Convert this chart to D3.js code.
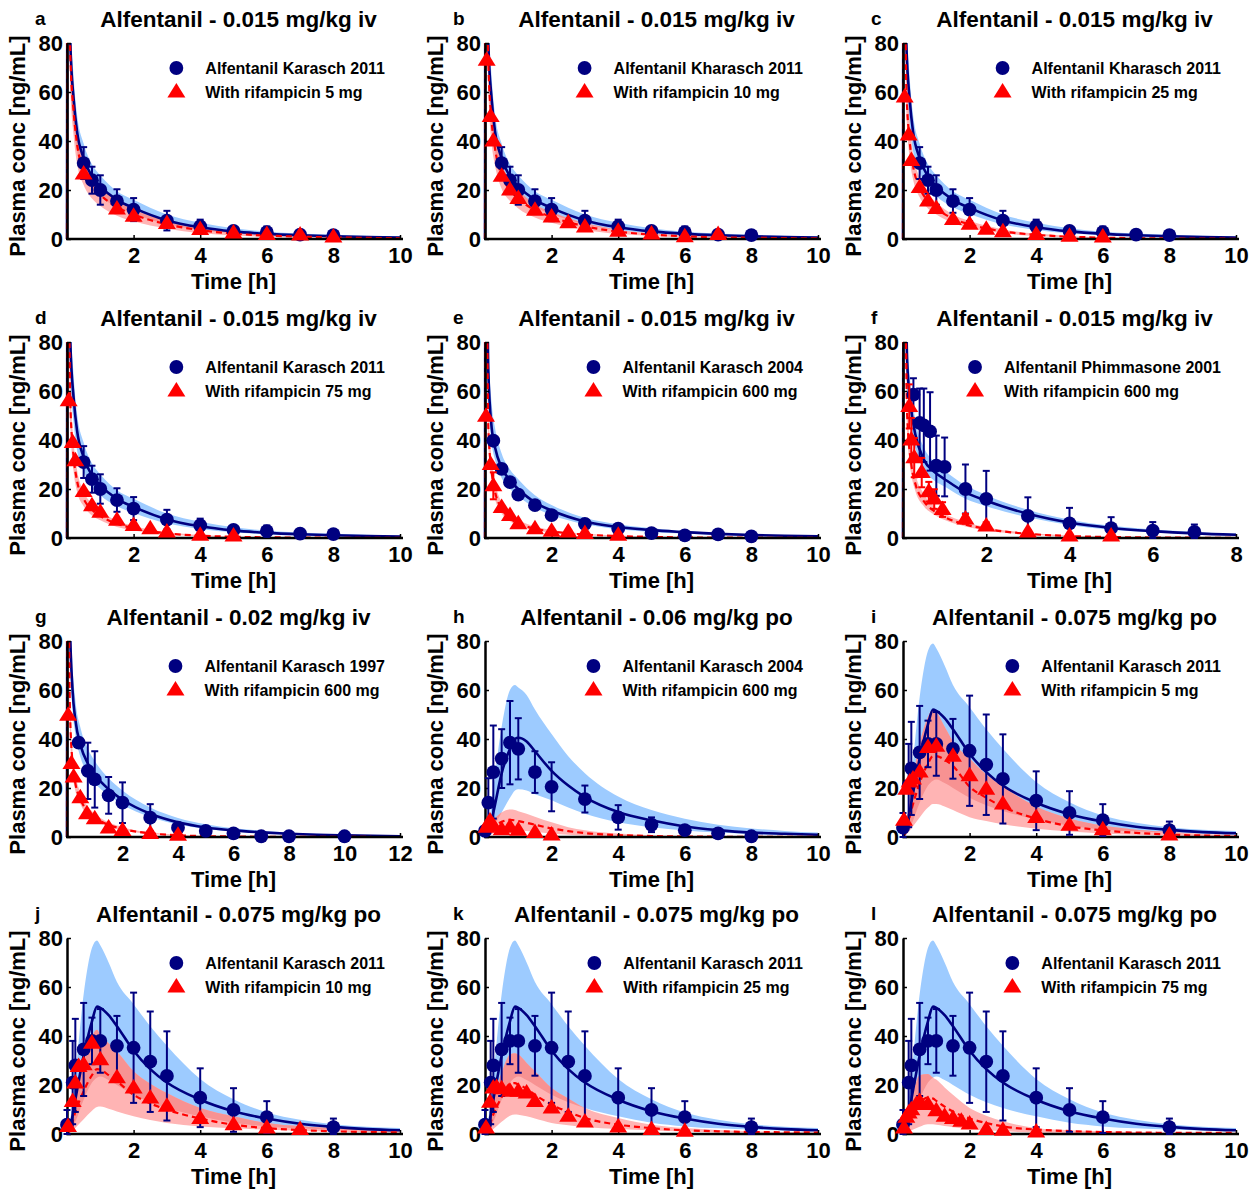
<!DOCTYPE html>
<html><head><meta charset="utf-8">
<script src="https://cdn.jsdelivr.net/npm/d3@7"></script>
<style>
body{margin:0;background:#fff}
text{font-family:"Liberation Sans",Arial,Helvetica,sans-serif;font-weight:bold;fill:#000}
</style></head>
<body><svg id="chart" width="1255" height="1191"></svg>
<script>
// ---------------- DATA ----------------
const panelLetters = ["a","b","c","d","e","f","g","h","i","j","k","l"];
const panelTitles = [
 "Alfentanil - 0.015 mg/kg iv","Alfentanil - 0.015 mg/kg iv","Alfentanil - 0.015 mg/kg iv",
 "Alfentanil - 0.015 mg/kg iv","Alfentanil - 0.015 mg/kg iv","Alfentanil - 0.015 mg/kg iv",
 "Alfentanil - 0.02 mg/kg iv","Alfentanil - 0.06 mg/kg po","Alfentanil - 0.075 mg/kg po",
 "Alfentanil - 0.075 mg/kg po","Alfentanil - 0.075 mg/kg po","Alfentanil - 0.075 mg/kg po"];
const controlLabels = [
 "Alfentanil Karasch 2011","Alfentanil Kharasch 2011","Alfentanil Kharasch 2011",
 "Alfentanil Karasch 2011","Alfentanil Karasch 2004","Alfentanil Phimmasone 2001",
 "Alfentanil Karasch 1997","Alfentanil Karasch 2004","Alfentanil Karasch 2011",
 "Alfentanil Karasch 2011","Alfentanil Karasch 2011","Alfentanil Karasch 2011"];
const rifLabels = [
 "With rifampicin 5 mg","With rifampicin 10 mg","With rifampicin 25 mg",
 "With rifampicin 75 mg","With rifampicin 600 mg","With rifampicin 600 mg",
 "With rifampicin 600 mg","With rifampicin 600 mg","With rifampicin 5 mg",
 "With rifampicin 10 mg","With rifampicin 25 mg","With rifampicin 75 mg"];
const xMaxes = [10,10,10,10,10,8,12,10,10,10,10,10];
const yTicks = [0,20,40,60,80];
const xTicks10 = [2,4,6,8,10], xTicks8 = [2,4,6,8], xTicks12 = [2,4,6,8,10,12];

// simulation time grids [h]
const simT_iv = [0,0.02,0.1,0.2,0.3,0.5,0.75,1,1.5,2,3,4,5,6,7,8,9,10];
const simT_f  = [0,0.02,0.1,0.2,0.3,0.5,0.75,1,1.5,2,3,4,5,6,7,8];
const simT_g  = [0,0.02,0.1,0.2,0.3,0.5,0.75,1,1.5,2,3,4,5,6,7,8,9,10,11,12];
const simT_po = [0,0.1,0.25,0.5,0.75,0.9,1,1.25,1.5,2,2.5,3,4,5,6,7,8,9,10];

// control simulations (median, 5th, 95th percentile)
const ivB11_med = [0,160,80,57,44,33,25.5,21.5,16,12.7,7.6,4.8,3.1,2.1,1.5,1.1,0.8,0.6];
const ivB11_hi  = [0,190,95,66,51,39,30.5,26,19.5,16,10,6.6,4.4,3,2.2,1.7,1.3,1.0];
const ivB11_lo  = [0,130,66,47,36,27,21,17.5,13,10.2,6,3.7,2.3,1.5,1.0,0.7,0.5,0.4];
const ivB04_med = [0,160,68,45,37,28.7,23.5,20,14.5,11.2,6.7,4.5,3.2,2.4,1.7,1.2,0.9,0.7];
const ivB04_hi  = [0,180,80,55,45,34.5,28,24,17.5,13.5,8.3,5.6,4,2.9,2.1,1.5,1.1,0.85];
const ivB04_lo  = [0,140,58,39,32,24.5,20,17,12.3,9.4,5.6,3.6,2.5,1.8,1.3,0.9,0.7,0.5];
const fB_med = [0,160,72,52,42,32,27,24,18.6,15.2,9.9,6.3,4.1,2.8,1.9,1.35];
const fB_hi  = [0,185,84,60,48,37,31,27.5,21.5,17.5,11.5,7.5,5,3.5,2.5,1.8];
const fB_lo  = [0,140,63,45,36.5,28,23.5,21,16,13,8.5,5.3,3.4,2.3,1.5,1.05];
const gB_med = [0,160,90,60,48,37,30,25.5,19.5,15.2,9.5,6,3.9,2.7,1.9,1.3,0.9,0.65,0.45,0.3];
const gB_hi  = [0,190,105,70,56,44,36,31,24,19,12,7.8,5.2,3.6,2.6,1.8,1.3,0.95,0.7,0.5];
const gB_lo  = [0,135,78,52,42,32,26,22,17,13.2,8.2,5.1,3.3,2.2,1.5,1.05,0.7,0.5,0.35,0.25];
const hB_med = [0,2,10,26,36,40,40.5,39,35,27,21,16.3,10.2,6.8,4.3,2.8,1.8,1.3,0.9];
const hB_hi  = [0,4,20,45,60,62,61,58,52,42,33,26,16.5,11,7.5,5,3.5,2.5,1.8];
const hB_lo  = [0,0.5,4,10,16,19,19.5,19,17.5,15,12,9.5,6,4,2.7,1.8,1.2,0.8,0.6];
const poB11_med = [0,3,14,32,46,52,51.5,48.5,44,34,26.5,21,14,9.3,6.3,4.2,2.9,2,1.5];
const poB11_hi  = [0,6,24,57,76,79,77,70,62,53,44,36,22.5,14.2,8.8,5.8,4,3,2.4];
const poB11_lo  = [0,1,5,14,21,23,23.5,22,20,16,13,10.6,7.2,4.6,3.1,2.3,1.8,1.4,1.1];

// rifampicin simulations
const aR_med = [0,160,75,52,39,28,21.5,18,13,10,6,3.6,2.2,1.4,0.95,0.65,0.45,0.3];
const aR_lo  = [0,130,62,42,31,22,16.5,13.5,9.5,7.2,4.2,2.4,1.4,0.9,0.6,0.4,0.3,0.2];
const aR_hi  = [0,190,88,62,46,33,25.5,21.5,15.5,12,7.4,4.5,2.9,1.9,1.3,0.9,0.6,0.45];
const bR_med = [0,160,72,48,37,26,20,16.5,11.8,9,5.2,3.0,1.8,1.1,0.7,0.5,0.35,0.25];
const bR_lo  = [0,130,60,39,30,20.5,15.5,12.5,8.8,6.6,3.7,2.1,1.2,0.7,0.45,0.3,0.2,0.15];
const bR_hi  = [0,190,85,57,44,31,24,20,14.2,11,6.5,3.8,2.3,1.5,1,0.7,0.5,0.35];
const cR_med = [0,150,62,40,30,21,15.5,12.5,8.3,6,3.1,1.7,0.95,0.55,0.35,0.22,0.15,0.1];
const cR_lo  = [0,125,52,33,24.5,17,12.5,10,6.5,4.6,2.3,1.2,0.65,0.38,0.24,0.15,0.1,0.07];
const cR_hi  = [0,175,73,47,35,25,18.5,15,10,7.4,3.9,2.2,1.25,0.75,0.48,0.3,0.2,0.14];
const dR_med = [0,140,55,33,23.5,16,11.5,9,5.8,4,1.9,0.95,0.5,0.28,0.16,0.1,0.06,0.04];
const dR_lo  = [0,115,46,27,19,13,9.2,7.2,4.5,3.1,1.4,0.7,0.36,0.2,0.11,0.07,0.04,0.03];
const dR_hi  = [0,165,64,39,28,19,14,11,7,4.9,2.4,1.2,0.65,0.37,0.21,0.13,0.08,0.05];
const eR_med = [0,150,45,27,19,12,8,6,3.8,2.7,1.4,0.8,0.45,0.25,0.15,0.1,0.06,0.04];
const eR_hi  = [0,170,55,32,23,14.5,10,7.4,4.7,3.3,1.8,1,0.6,0.35,0.2,0.13,0.08,0.05];
const eR_lo  = [0,130,38,23,16,10,6.8,5,3.2,2.2,1.1,0.6,0.35,0.2,0.12,0.08,0.05,0.03];
const fR_med = [0,150,50,30,22,15,11,8.5,5.5,3.7,1.7,0.8,0.4,0.2,0.12,0.07];
const fR_hi  = [0,170,58,35,26,18,13,10,6.5,4.4,2.1,1,0.5,0.26,0.15,0.09];
const fR_lo  = [0,130,43,26,19,13,9.5,7.3,4.7,3.1,1.4,0.65,0.32,0.16,0.09,0.05];
const gR_med = [0,150,55,30,22,15,10.5,8,5,3.3,1.5,0.7,0.35,0.18,0.1,0.05,0.03,0.02,0.01,0.01];
const gR_hi  = [0,170,63,35,26,17.5,12.5,9.5,6,4,1.9,0.9,0.45,0.24,0.13,0.07,0.04,0.03,0.02,0.01];
const gR_lo  = [0,130,48,26,19,13,9,6.8,4.2,2.8,1.2,0.55,0.27,0.14,0.07,0.04,0.02,0.01,0.01,0];
const hR_med = [0,1,4,6.2,7,6.8,6.5,5.8,5,3.5,2.4,1.6,0.8,0.4,0.2,0.1,0.05,0.03,0.02];
const hR_hi  = [0,2,6.5,10,11.2,11,10.5,9.5,8.3,6,4,2.8,1.4,0.7,0.4,0.2,0.1,0.06,0.04];
const hR_lo  = [0,0.3,1.5,2.5,3,3,2.8,2.5,2.1,1.4,0.9,0.6,0.3,0.15,0.08,0.04,0.02,0.01,0];
const iR_med = [0,3,11,22,30,33,33,31.5,29,20.5,16,12.3,7.5,4.4,2.7,1.7,1,0.6,0.4];
const iR_hi  = [0,6,20,38,49,52,51,45,39,32,25.5,20.5,12.5,7.6,4.7,3,2,1.2,0.7];
const iR_lo  = [0,1,3.5,8,12,13.5,13.5,12.5,11,8.1,6.5,5.2,3.4,2.2,1.4,0.9,0.6,0.4,0.3];
const jR_med = [0,2,9,17.5,24,26.5,26.3,24,21.5,16,12.5,9.9,6.3,3.8,2.4,1.6,1.1,0.8,0.7];
const jR_hi  = [0,4,16,30,40,42.6,40.5,37,33.7,25.6,20.5,16.7,10.6,7.2,4.5,3.2,2.4,1.6,1.1];
const jR_lo  = [0,0.5,2.5,6,9.5,11,11.2,10.3,9.2,7.2,5.7,4.5,3.1,2.3,1.8,1.3,1,0.7,0.5];
const kR_med = [0,2,8,15,20.5,20.8,20.2,18.5,16,12,9,6.5,3.8,2.4,1.5,1.1,0.8,0.7,0.6];
const kR_hi  = [0,4,14,25,32.5,33,32.4,29,25.6,18.8,14.5,10.6,6.5,3.8,2.4,1.6,1.1,0.8,0.5];
const kR_lo  = [0,0.5,2,5,7.5,8,7.9,7.2,6.3,4.5,3.6,2.9,2,1.4,1,0.7,0.5,0.4,0.3];
const lR_med = [0,2,7,12.5,15,14.5,13.5,11.2,9.2,6.3,4.5,3.1,1.8,1.2,0.8,0.6,0.5,0.5,0.45];
const lR_hi  = [0,4,13,24,24.5,23,22.2,19,16,10.6,7.5,5.2,2.4,1.5,1.1,0.8,0.6,0.5,0.5];
const lR_lo  = [0,0.5,1.5,3,4,4,3.8,3.3,2.8,2,1.5,1.1,0.6,0.4,0.25,0.15,0.1,0.08,0.06];

// observed control data (mean, SD)
const iv11_t  = [0.5,0.75,1,1.5,2,3,4,5,6,7,8];
const iv11_m  = [31,24,20,15.5,12,7.5,5.2,3.3,2.8,1.8,1.6];
const iv11_sd = [6.5,5.5,6,4.8,4.7,4,2.7,1.9,2.3,0.6,0.5];
const e_bt = [0.25,0.5,0.75,1,1.5,2,3,4,5,6,7,8];
const e_bm = [39.7,28.2,22.8,17.7,13.4,9.3,5.8,3.8,2,1.1,1.5,0.7];
const f_bt = [0.25,0.4,0.5,0.65,0.8,1,1.5,2,3,4,5,6,7];
const f_bm = [58.5,47,46,43.5,29.5,29,20,16,9,6,4,3,2.5];
const f_bsd = [6.7,14,15,16,12.3,12,10,11.4,7.6,6.3,4.5,3.5,3];
const g_bt = [0.42,0.75,1,1.5,2,3,4,5,6,7,8,10];
const g_bm = [38.5,27,23.5,17,14,7.9,3.8,2.5,1.5,0.3,0.3,0.3];
const g_bsd = [0,11.5,11.5,7.5,8.3,5.5,0,0,0,0,0,0];
const h_bt = [0,0.1,0.25,0.5,0.75,1,1.5,2,3,4,5,6,7,8];
const h_bm = [2.5,14,26.5,32,38.5,36,26.5,20.5,15.5,8,5,2.8,1.5,0.3];
const h_bsd = [0,10,19,12,17,12.5,8.5,10,5.5,5,3,1.2,0.8,0];
const po11_t  = [0,0.17,0.25,0.5,0.75,1,1.5,2,2.5,3,4,5,6,8];
const po11_m  = [3.8,21,28,34.5,38,38,36,35.2,29.5,23.7,14.8,9.8,6.9,2.8];
const po11_sd = [6,17,19,19,9.5,13,12.2,22.5,20.5,18.2,12,8.9,6.5,3.5];

// observed rifampicin data
const a_rt = [0.5,1.5,2,3,4,5,6,7,8];
const a_rm = [26.5,12.2,9.3,6.3,3.9,2.4,1.8,1.6,0.8];
const b_rt = [0.05,0.17,0.25,0.5,0.75,1,1.5,2,2.5,3,4,5,6,7];
const b_rm = [73,50,40,25.6,20,16.5,11.7,9,6.6,4.9,3.2,2,0.9,1.8];
const c_rt = [0.05,0.17,0.25,0.5,0.75,1,1.5,2,2.5,3,4,5,6];
const c_rm = [58,42.5,32,21,15.5,12.5,8,6,4,3,1.8,1.1,0.8];
const d_rt = [0.05,0.17,0.25,0.5,0.75,1,1.5,2,2.5,3,4,5];
const d_rm = [56,39,31.5,19,13.2,10.5,7.2,5.1,3.8,2.4,1.1,0.8];
const e_rt = [0.03,0.17,0.25,0.5,0.75,1,1.5,2,2.5,3,4];
const e_rm = [49.7,30,21.3,12.5,9.2,5.8,3.8,2.8,2.4,1.8,1.1];
const e_rsd = [0,0,5.5,0,0,0,0,0,0,0,0];
const f_rt = [0.15,0.2,0.27,0.45,0.62,0.75,0.95,1.5,2,3,4,5];
const f_rm = [53.7,40,32.8,26.7,18.9,15.9,11.6,7.8,4.9,2.4,0.8,0.8];
const f_rsd = [9,9,8,6,4,4,3,2,1.5,0.8,0.5,0.5];
const g_rt = [0.04,0.16,0.24,0.48,0.72,1,1.5,2,3,4];
const g_rm = [49.7,30,24.5,16,9.5,7.5,3.7,2.7,1.4,0.7];
const h_rt = [0.05,0.15,0.25,0.5,0.75,1,1.5,2];
const h_rm = [4,6.5,4.5,3,4,2.8,1.8,0.8];
const i_rt = [0.03,0.1,0.2,0.3,0.5,0.75,1,1.5,2,2.5,3,4,5,6,8];
const i_rm = [6.8,19.5,22.5,23.7,26.5,36.5,37,33,25,19.5,13.5,8,4.8,3,0.8];
const j_rt = [0.03,0.17,0.25,0.35,0.5,0.75,1,1.5,2,2.5,3,4,5,6,7];
const j_rm = [3.1,13.3,20.8,27.6,28.3,37,30.3,23,18.8,14.7,11.3,6.3,3.8,2.4,1.8];
const k_rt = [0.03,0.15,0.25,0.35,0.5,0.75,1,1.25,1.5,2,2.5,3,4,5,6];
const k_rm = [2.4,13,18.8,19,18.5,17.5,17.4,16.7,13.3,10.6,7.2,4.9,2.9,1.8,1.1];
const l_rt = [0.03,0.1,0.17,0.25,0.4,0.5,0.75,1,1.25,1.5,1.75,2,2.5,3,4];
const l_rm = [2.4,6.8,8.6,9.9,12,13.3,12,9.5,7.2,6.3,5.2,4.1,1.8,1.5,0.8];

// ---------------- PANEL TABLE (built from arrays above) ----------------
const sims = [
 [simT_iv, ivB11_med, ivB11_lo, ivB11_hi, aR_med, aR_lo, aR_hi],
 [simT_iv, ivB11_med, ivB11_lo, ivB11_hi, bR_med, bR_lo, bR_hi],
 [simT_iv, ivB11_med, ivB11_lo, ivB11_hi, cR_med, cR_lo, cR_hi],
 [simT_iv, ivB11_med, ivB11_lo, ivB11_hi, dR_med, dR_lo, dR_hi],
 [simT_iv, ivB04_med, ivB04_lo, ivB04_hi, eR_med, eR_lo, eR_hi],
 [simT_f,  fB_med, fB_lo, fB_hi, fR_med, fR_lo, fR_hi],
 [simT_g,  gB_med, gB_lo, gB_hi, gR_med, gR_lo, gR_hi],
 [simT_po, hB_med, hB_lo, hB_hi, hR_med, hR_lo, hR_hi],
 [simT_po, poB11_med, poB11_lo, poB11_hi, iR_med, iR_lo, iR_hi],
 [simT_po, poB11_med, poB11_lo, poB11_hi, jR_med, jR_lo, jR_hi],
 [simT_po, poB11_med, poB11_lo, poB11_hi, kR_med, kR_lo, kR_hi],
 [simT_po, poB11_med, poB11_lo, poB11_hi, lR_med, lR_lo, lR_hi]];
const obsBlue = [
 [iv11_t, iv11_m, iv11_sd],[iv11_t, iv11_m, iv11_sd],[iv11_t, iv11_m, iv11_sd],[iv11_t, iv11_m, iv11_sd],
 [e_bt, e_bm, null],[f_bt, f_bm, f_bsd],[g_bt, g_bm, g_bsd],[h_bt, h_bm, h_bsd],
 [po11_t, po11_m, po11_sd],[po11_t, po11_m, po11_sd],[po11_t, po11_m, po11_sd],[po11_t, po11_m, po11_sd]];
const obsRed = [
 [a_rt,a_rm,null],[b_rt,b_rm,null],[c_rt,c_rm,null],[d_rt,d_rm,null],[e_rt,e_rm,e_rsd],[f_rt,f_rm,f_rsd],
 [g_rt,g_rm,null],[h_rt,h_rm,null],[i_rt,i_rm,null],[j_rt,j_rm,null],[k_rt,k_rm,null],[l_rt,l_rm,null]];

// ---------------- DRAWING ----------------
const NAVY = "#000080", RED = "#ff0000";
const BLUE_BAND = "#9dcbff", RED_BAND = "#ffb4b4", OVERLAP = "#f79292";
const colLeft = [67, 485, 903], rowTop = [43, 342, 641, 938];
const PW = 333, PH = 196;
const svg = d3.select("#chart");
const triPath = "M0,-9L9,5.5L-9,5.5Z";
const R = 6.9;

panelLetters.forEach((letter, idx) => {
  const L = colLeft[idx % 3], T = rowTop[Math.floor(idx / 3)];
  const xMax = xMaxes[idx];
  const xt = xMax === 8 ? xTicks8 : (xMax === 12 ? xTicks12 : xTicks10);
  const x = d3.scaleLinear().domain([0, xMax]).range([0, PW]);
  const y = d3.scaleLinear().domain([0, 80]).range([PH, 0]);
  const g = svg.append("g").attr("transform", `translate(${L},${T})`);

  const clipId = "clip" + letter, bandClipId = "band" + letter;
  const defs = g.append("defs");
  defs.append("clipPath").attr("id", clipId).append("rect")
    .attr("x", -3).attr("y", 0).attr("width", PW + 4).attr("height", PH + 2);

  const [st, bMed, bLo, bHi, rMed, rLo, rHi] = sims[idx];
  const area = (lo, hi) => d3.area().curve(d3.curveMonotoneX)
      .x((d, i) => x(st[i])).y0((d, i) => y(lo[i])).y1((d, i) => y(hi[i]))(st);
  const line = (m) => d3.line().curve(d3.curveMonotoneX)
      .x((d, i) => x(st[i])).y((d, i) => y(m[i]))(st);

  defs.append("clipPath").attr("id", bandClipId).append("path").attr("d", area(bLo, bHi));

  const plot = g.append("g").attr("clip-path", `url(#${clipId})`);
  plot.append("path").attr("d", area(bLo, bHi)).attr("fill", BLUE_BAND);
  plot.append("path").attr("d", area(rLo, rHi)).attr("fill", RED_BAND);
  plot.append("g").attr("clip-path", `url(#${bandClipId})`)
    .append("path").attr("d", area(rLo, rHi)).attr("fill", OVERLAP);
  plot.append("path").attr("d", line(bMed)).attr("fill", "none")
    .attr("stroke", NAVY).attr("stroke-width", 2.6);
  plot.append("path").attr("d", line(rMed)).attr("fill", "none")
    .attr("stroke", RED).attr("stroke-width", 2.2).attr("stroke-dasharray", "6,4");

  // axes
  const yAxis = d3.axisLeft(y).tickValues(yTicks).tickSizeInner(-4).tickSizeOuter(0).tickPadding(4);
  const xAxis = d3.axisBottom(x).tickValues(xt).tickSizeInner(-4).tickSizeOuter(0).tickPadding(8);
  const ya = g.append("g").call(yAxis);
  const xa = g.append("g").attr("transform", `translate(0,${PH})`).call(xAxis);
  [ya, xa].forEach(a => {
    a.selectAll("path.domain").attr("stroke", "#000").attr("stroke-width", 2.5);
    a.selectAll(".tick line").attr("stroke", "#000").attr("stroke-width", 1.5);
    a.selectAll(".tick text").attr("font-size", 22).attr("font-weight", "bold")
      .attr("font-family", '"Liberation Sans", Arial, sans-serif').attr("fill", "#000");
  });
  xa.select("path.domain").attr("d", `M-1,0H${PW + 3}`);

  // observed data
  const drawErr = (t, m, sd, color) => {
    if (!sd) return;
    t.forEach((tv, i) => {
      if (!sd[i]) return;
      const cx = x(tv), y1 = y(m[i] + sd[i]), y0 = y(Math.max(0, m[i] - sd[i]));
      g.append("line").attr("x1", cx).attr("x2", cx).attr("y1", y0).attr("y2", y1)
        .attr("stroke", color).attr("stroke-width", 2);
      [y0, y1].forEach(yy => g.append("line").attr("x1", cx - 3.5).attr("x2", cx + 3.5)
        .attr("y1", yy).attr("y2", yy).attr("stroke", color).attr("stroke-width", 2));
    });
  };
  const [bt, bm, bsd] = obsBlue[idx];
  drawErr(bt, bm, bsd, NAVY);
  g.selectAll(null).data(bt).enter().append("circle")
    .attr("cx", d => x(d)).attr("cy", (d, i) => y(bm[i])).attr("r", R).attr("fill", NAVY);
  const [rt, rm, rsd] = obsRed[idx];
  drawErr(rt, rm, rsd, RED);
  g.selectAll(null).data(rt).enter().append("path").attr("d", triPath)
    .attr("transform", (d, i) => `translate(${x(d)},${y(rm[i])})`).attr("fill", RED);

  // texts
  g.append("text").attr("x", -32).attr("y", -18).attr("font-size", 19).text(letter);
  g.append("text").attr("x", PW / 2 + 5).attr("y", -16).attr("text-anchor", "middle")
    .attr("font-size", 22.5).text(panelTitles[idx]);
  g.append("text").attr("x", PW / 2).attr("y", PH + 50).attr("text-anchor", "middle")
    .attr("font-size", 22).text("Time [h]");
  g.append("text").attr("transform", `translate(-42,${PH / 2 + 5}) rotate(-90)`)
    .attr("text-anchor", "middle").attr("font-size", 22).text("Plasma conc [ng/mL]");

  // legend
  const lg = g.append("g");
  const t1 = lg.append("text").attr("font-size", 16).attr("y", 25 + 6).text(controlLabels[idx]);
  const t2 = lg.append("text").attr("font-size", 16).attr("y", 49 + 6).text(rifLabels[idx]);
  const w = Math.max(t1.node().getComputedTextLength(), t2.node().getComputedTextLength());
  const sx = PW - 15 - w;
  t1.attr("x", sx); t2.attr("x", sx);
  lg.append("circle").attr("cx", sx - 29).attr("cy", 25).attr("r", R).attr("fill", NAVY);
  lg.append("path").attr("d", triPath).attr("transform", `translate(${sx - 29},${49})`).attr("fill", RED);
});
</script></body></html>
